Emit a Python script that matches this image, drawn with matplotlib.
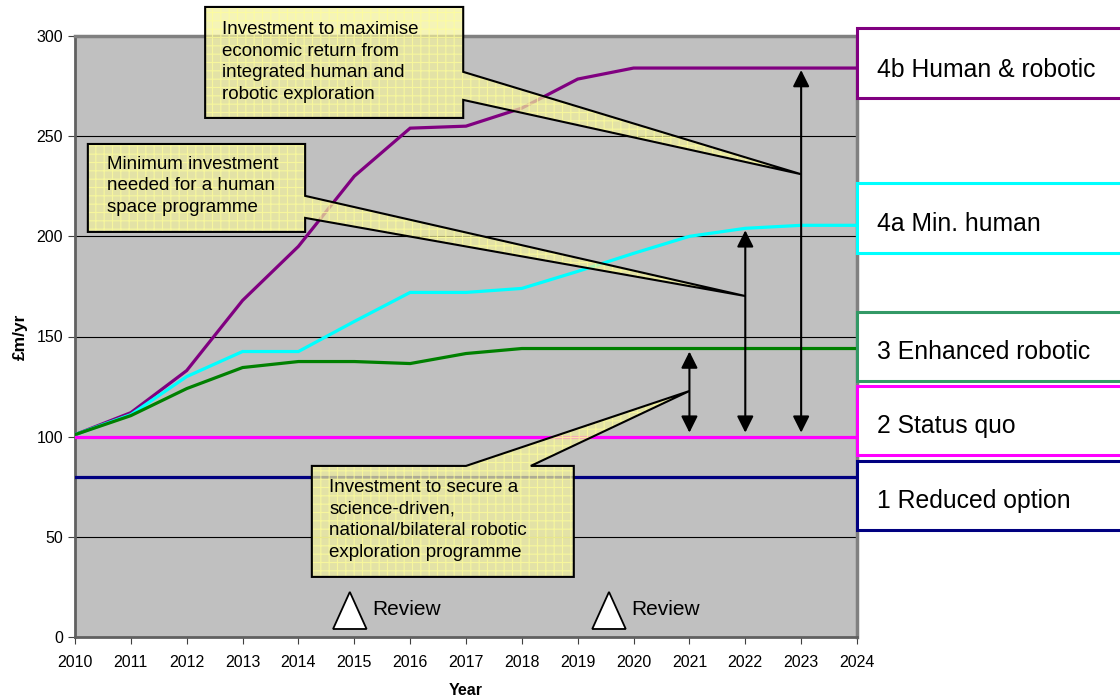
import numpy as np
import matplotlib.pyplot as plt
from matplotlib.patches import Polygon, Rectangle

plt.rcParams['font.family'] = ['Liberation Sans', 'DejaVu Sans']
plt.rcParams['hatch.linewidth'] = 0.8

# Данные
years = np.arange(2010, 2025)
human_robotic = [101, 112, 133, 168, 195, 230, 254, 255, 264, 278.5, 284, 284, 284, 284, 284]
min_human = [101, 111, 130, 142.5, 142.5, 157.5, 172, 172, 174, 182.5, 191.5, 200, 204, 205.5, 205.5]
enhanced = [101, 110.5, 124, 134.5, 137.5, 137.5, 136.5, 141.5, 144, 144, 144, 144, 144, 144, 144]
status_quo = [100] * 15
reduced = [80] * 15

series = [
    ('4b Human & robotic', human_robotic, '#800080', '#800080'),
    ('4a Min. human', min_human, '#00ffff', '#00ffff'),
    ('3 Enhanced robotic', enhanced, '#008000', '#339966'),
    ('2 Status quo', status_quo, '#ff00ff', '#ff00ff'),
    ('1 Reduced option', reduced, '#000080', '#000080'),
]
# подписи справа: (низ, верх, центр текста) в единицах оси y
label_boxes = [(269, 304, 283), (191.7, 226.7, 206.2), (127.8, 162.3, 142.3),
               (90.9, 125.3, 105.3), (53.4, 87.9, 67.9)]

# стрелки: год, низ, верх
arrows = [(2021, 102, 142.5), (2022, 102, 203), (2023, 102, 283)]

# выноски: рамка (x0, x1, y_bot, y_top), основание клина, острие, текст
callouts = [
    dict(box=(2012.33, 2016.95, 259.1, 314.5), side='right', base=(282.1, 268.1),
         tip=(2023, 231),
         text='Investment to maximise\neconomic return from\nintegrated human and\nrobotic exploration',
         tx=2012.63, ty=307.3),
    dict(box=(2010.23, 2014.12, 202.2, 246.1), side='right', base=(220.2, 209.2),
         tip=(2022, 170.2),
         text='Minimum investment\nneeded for a human\nspace programme',
         tx=2010.57, ty=240.2),
    dict(box=(2014.24, 2018.93, 30.0, 85.4), side='top', base=(2017.0, 2018.16),
         tip=(2021, 122.8),
         text='Investment to secure a\nscience-driven,\nnational/bilateral robotic\nexploration programme',
         tx=2014.55, ty=78.7),
]

review_x = [2014.92, 2019.56]

fig = plt.figure(figsize=(11.2, 7), dpi=100)
ax = fig.add_axes([75 / 1120, 63 / 700, 782 / 1120, 601 / 700])
ax.set_facecolor('#c0c0c0')

for name, vals, col, ecol in series:
    ax.plot(years, vals, color=col, lw=2.3, zorder=3, solid_joinstyle='miter')

ax.set_xlim(2010, 2024)
ax.set_ylim(0, 300)
ax.set_xticks(years)
ax.set_yticks(range(0, 301, 50))
ax.tick_params(labelsize=11.5, direction='out', length=5, color='#404040')
ax.tick_params(axis='x', pad=8)
for y in range(50, 300, 50):
    ax.axhline(y, color='black', lw=0.8, zorder=1)
for s in ['top', 'right']:
    ax.spines[s].set_color('#808080')
    ax.spines[s].set_linewidth(2.5)
for s in ['left', 'bottom']:
    ax.spines[s].set_color('#606060')
    ax.spines[s].set_linewidth(2)

ax.set_xlabel('Year', fontsize=11.5, fontweight='bold', labelpad=9)
ax.set_ylabel('£m/yr', fontsize=12.5, fontweight='bold', labelpad=6)

# выноски
for c in callouts:
    x0, x1, yb, yt = c['box']
    if c['side'] == 'right':
        pts = [(x0, yt), (x1, yt), (x1, c['base'][0]), c['tip'], (x1, c['base'][1]),
               (x1, yb), (x0, yb)]
    else:
        pts = [(x0, yt), (c['base'][0], yt), c['tip'], (c['base'][1], yt),
               (x1, yt), (x1, yb), (x0, yb)]
    ax.add_patch(Polygon(pts, closed=True, facecolor='#f2f09c', edgecolor='#ffff99',
                         hatch='++', lw=0, alpha=0.72, zorder=4, clip_on=False))
    ax.add_patch(Polygon(pts, closed=True, facecolor='none', edgecolor='black',
                         lw=1.5, zorder=5, clip_on=False))
    ax.text(c['tx'], c['ty'], c['text'], fontsize=13.5, va='top', ha='left',
            linespacing=1.34, zorder=6, clip_on=False)

# стрелки
for x, y0, y1 in arrows:
    ax.annotate('', xy=(x, y1), xytext=(x, y0),
                arrowprops=dict(arrowstyle='<|-|>,head_length=0.5,head_width=0.25',
                                mutation_scale=20, color='black', lw=1.5,
                                shrinkA=0, shrinkB=0), zorder=7)

# отметки Review
for rx in review_x:
    tri = [(rx - 0.3, 4), (rx + 0.3, 4), (rx, 22.5)]
    ax.add_patch(Polygon(tri, closed=True, facecolor='white', edgecolor='black',
                         lw=1.3, zorder=6))
    ax.text(rx + 0.4, 13.5, 'Review', fontsize=15, va='center', ha='left', zorder=6)

# подписи сценариев справа
for (name, vals, col, ecol), (yb, yt, ty) in zip(series, label_boxes):
    ax.add_patch(Rectangle((2024, yb), 6, yt - yb, facecolor='white', edgecolor=ecol,
                           lw=2.2, zorder=6, clip_on=False))
    ax.text(2024.36, ty, name, fontsize=17.8, va='center', ha='left', zorder=7,
            clip_on=False)

fig.savefig('out.png', dpi=100)
